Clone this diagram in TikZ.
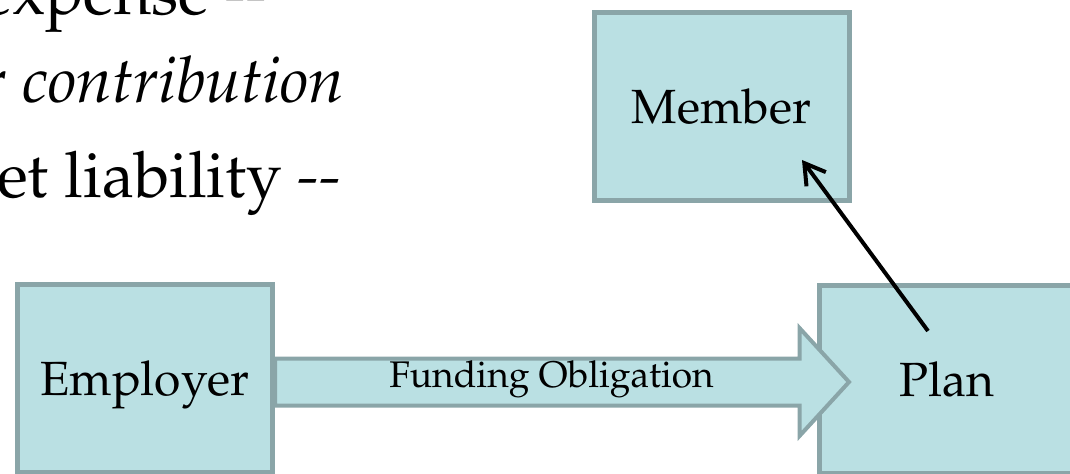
\documentclass[tikz,border=0pt]{standalone}
\usepackage[T1]{fontenc}
\usepackage{mathpazo}
\usepackage{tikz}
\usetikzlibrary{arrows.meta, calc}
\definecolor{boxfill}{HTML}{BAE0E3}
\definecolor{boxline}{HTML}{8AA5A8}

\begin{document}
\begin{tikzpicture}[x=0.75pt, y=-0.75pt,
  party/.style={draw=boxline, fill=boxfill, line width=3.75pt,
    minimum width=191.25pt, minimum height=141pt, inner sep=0pt,
    text height=26pt, text depth=0pt, font=\fontsize{36}{40}\selectfont},
  bullet/.style={anchor=base west, inner sep=0pt, font=\fontsize{48}{52}\selectfont}]
  % Page area
  \useasboundingbox (0,0) rectangle (1070,474);
  \clip (0,0) rectangle (1070,474);

  % Bullet text
  \node[bullet] (expense) at (-18.5,15) {expense -{}-};
  \node[bullet] (contrib) at (-19,103) {\itshape r contribution};
  \node[bullet] (liab) at (-3,197) {et liability \textit{-{}-}};

  % Parties
  \node[party] (employer) at (145,378.5) {Employer};
  \node[party] (plan) at (947,379.5) {Plan};
  \node[party] (member) at (721.5,106.5) {Member};

  % Funding arrow
  \draw[boxline, fill=boxfill, line width=3pt, line join=miter]
    ($(employer.east)+(0,-20)$) -- (799.5,358.5) -- (799.5,328) -- (849,382)
    -- (799.5,436) -- (799.5,405.5) -- ($(employer.east)+(0,27)$) -- cycle;
  \node[anchor=base, inner sep=0pt, font=\fontsize{27.8}{30}\selectfont]
    (funding) at (551.5,387) {Funding Obligation};

  % Benefit payment
  \draw[-{Straight Barb[length=15pt,width=18pt]}, line width=3pt]
    ([shift={(-19,-48.5)}]plan.center) -- ([shift={(80.5,53.5)}]member.center);
\end{tikzpicture}
\end{document}
